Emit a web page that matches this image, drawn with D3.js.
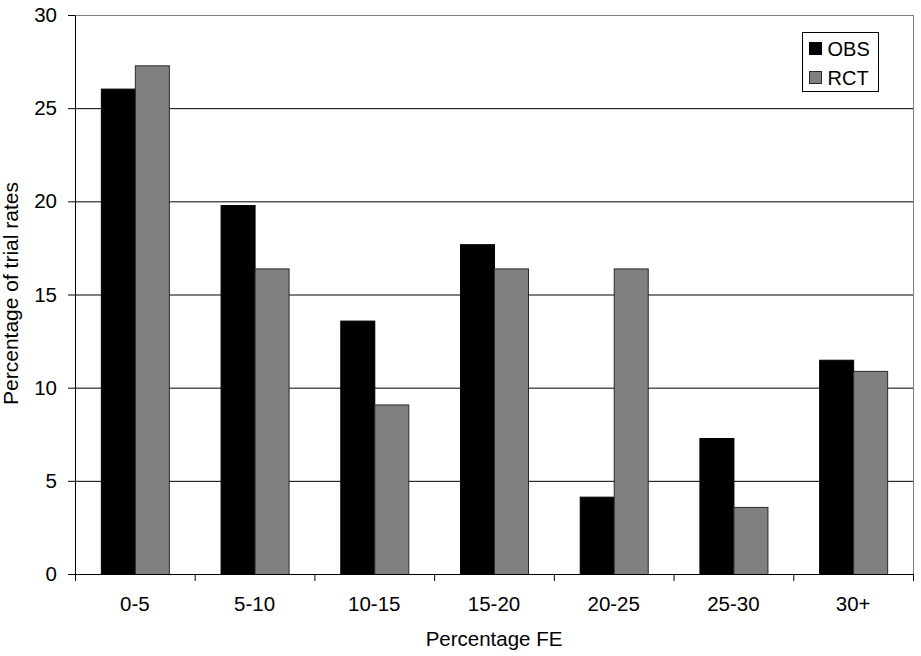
<!DOCTYPE html>
<html>
<head>
<meta charset="utf-8">
<script src="https://cdn.jsdelivr.net/npm/d3@7"></script>
<style>
  body { margin: 0; background: #fff; }
  svg text { font-family: "Liberation Sans", Arial, sans-serif; fill: #000; }
</style>
</head>
<body>
<svg id="chart" width="921" height="656"></svg>
<script>
// data
const categories = ["0-5", "5-10", "10-15", "15-20", "20-25", "25-30", "30+"];
const series = ["OBS", "RCT"];
const obsValues = [26.05, 19.8, 13.6, 17.7, 4.15, 7.3, 11.5];
const rctValues = [27.3, 16.4, 9.1, 16.4, 16.4, 3.6, 10.9];
const yTicks = [0, 5, 10, 15, 20, 25, 30];

const svg = d3.select("#chart");
const margin = { top: 15, right: 8, bottom: 82, left: 75 };
const width = 921 - margin.left - margin.right;
const height = 656 - margin.top - margin.bottom;

const g = svg.append("g")
  .attr("transform", "translate(" + margin.left + "," + margin.top + ")");

// scales
const x = d3.scaleBand().domain(categories).range([0, width]);
const xSub = d3.scaleBand().domain(series)
  .range([0, x.bandwidth()]).paddingOuter(0.76).paddingInner(0);
const y = d3.scaleLinear().domain([0, 30]).range([height, 0]);

const color = d3.scaleOrdinal().domain(series).range(["#000000", "#808080"]);
const stroke = d3.scaleOrdinal().domain(series).range(["#000000", "#2a2a2a"]);

// gridlines
g.append("g")
  .selectAll("line")
  .data(yTicks.filter(d => d > 0))
  .enter().append("line")
  .attr("x1", 0).attr("x2", width)
  .attr("y1", d => y(d) + 0.5).attr("y2", d => y(d) + 0.5)
  .attr("stroke", d => d === 30 ? "#808080" : "#000")
  .attr("stroke-width", 1);

// right border of plot area
g.append("line")
  .attr("x1", width + 0.5).attr("x2", width + 0.5)
  .attr("y1", 0).attr("y2", height)
  .attr("stroke", "#808080");

// bars
const rows = categories.map((c, i) => ({ cat: c, OBS: obsValues[i], RCT: rctValues[i] }));
g.append("g")
  .selectAll("g")
  .data(rows)
  .enter().append("g")
  .attr("transform", d => "translate(" + x(d.cat) + ",0)")
  .selectAll("rect")
  .data(d => series.map(s => ({ key: s, value: d[s] })))
  .enter().append("rect")
  .attr("x", d => xSub(d.key) + 0.5)
  .attr("y", d => y(d.value) + 0.5)
  .attr("width", xSub.bandwidth())
  .attr("height", d => height - y(d.value))
  .attr("fill", d => color(d.key))
  .attr("stroke", d => stroke(d.key))
  .attr("stroke-width", 1);

// y axis
const yAxis = g.append("g")
  .call(d3.axisLeft(y).tickValues(yTicks).tickSize(7).tickPadding(11).tickSizeOuter(0));
yAxis.select(".domain").attr("stroke", "#000");
yAxis.selectAll("line").attr("stroke", "#000");
yAxis.selectAll("text").style("font-size", "20.5px");

// x axis with ticks between categories
const xAxis = g.append("g")
  .attr("transform", "translate(0," + height + ")")
  .call(d3.axisBottom(x).tickSize(0).tickPadding(22));
xAxis.select(".domain").attr("stroke", "#000");
xAxis.selectAll("text").style("font-size", "20.5px");
xAxis.selectAll(".sep")
  .data(d3.range(categories.length + 1))
  .enter().append("line")
  .attr("class", "sep")
  .attr("x1", i => i * x.step() + 0.5).attr("x2", i => i * x.step() + 0.5)
  .attr("y1", 0).attr("y2", 7)
  .attr("stroke", "#000");

// axis titles
svg.append("text")
  .attr("x", margin.left + width / 2)
  .attr("y", 646)
  .attr("text-anchor", "middle")
  .style("font-size", "20.5px")
  .text("Percentage FE");

svg.append("text")
  .attr("transform", "translate(18," + (margin.top + height / 2 - 1) + ") rotate(-90)")
  .attr("text-anchor", "middle")
  .style("font-size", "21px")
  .text("Percentage of trial rates");

// legend
const legend = svg.append("g").attr("transform", "translate(802.5,32.5)");
legend.append("rect")
  .attr("width", 76).attr("height", 59)
  .attr("fill", "#fff").attr("stroke", "#000");
series.forEach((s, i) => {
  legend.append("rect")
    .attr("x", 7).attr("y", 10 + i * 29)
    .attr("width", 12).attr("height", 12)
    .attr("fill", color(s)).attr("stroke", stroke(s));
  legend.append("text")
    .attr("x", 25).attr("y", 16 + i * 29)
    .attr("dy", "0.35em")
    .style("font-size", "20px")
    .text(s);
});
</script>
</body>
</html>
